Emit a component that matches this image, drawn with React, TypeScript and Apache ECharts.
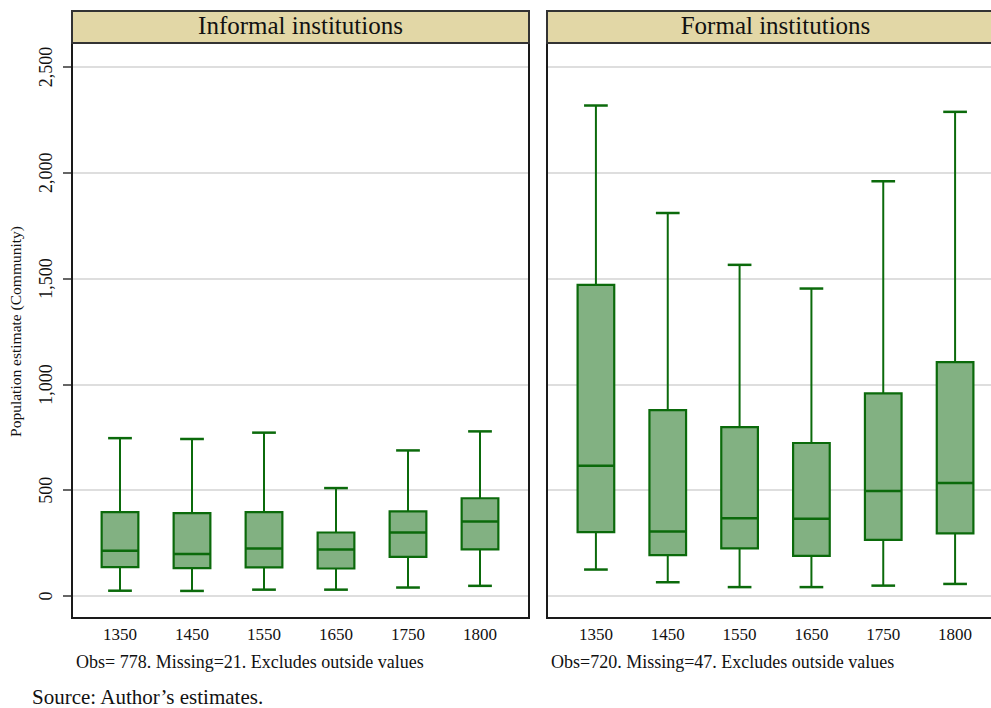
import React, { useEffect, useRef } from "react";
import * as echarts from "echarts";

const categories = ["1350", "1450", "1550", "1650", "1750", "1800"];
// [min, Q1, median, Q3, max] per period
const informalBoxes = [
  [25, 136, 214, 396, 746],
  [24, 132, 198, 392, 742],
  [30, 135, 225, 396, 772],
  [30, 130, 220, 300, 510],
  [40, 185, 300, 400, 688],
  [48, 220, 352, 462, 778],
];
const formalBoxes = [
  [125, 302, 615, 1470, 2318],
  [65, 193, 305, 878, 1810],
  [42, 225, 368, 798, 1565],
  [42, 190, 365, 723, 1453],
  [49, 265, 496, 958, 1960],
  [57, 296, 534, 1105, 2288],
];
const yTicks = { min: 0, max: 2500, interval: 500 };
const panelTitles = ["Informal institutions", "Formal institutions"];
const notes = [
  "Obs= 778. Missing=21. Excludes outside values",
  "Obs=720. Missing=47. Excludes outside values",
];
const sourceText = "Source: Author\u2019s estimates.";
const yTitle = "Population estimate (Community)";

const FONT = "'Liberation Serif', 'Times New Roman', serif";
const STROKE = "#0b6a0b";
const FILL = "#82b182";

function renderBox(params: any, api: any) {
  const x = api.value(0);
  const vals = [api.value(1), api.value(2), api.value(3), api.value(4), api.value(5)];
  const band = api.size([1, 0])[0];
  const boxW = band * 0.51;
  const capW = band * 0.33;
  const pMin = api.coord([x, vals[0]]);
  const pQ1 = api.coord([x, vals[1]]);
  const pMed = api.coord([x, vals[2]]);
  const pQ3 = api.coord([x, vals[3]]);
  const pMax = api.coord([x, vals[4]]);
  const cx = pMed[0];
  const ls = { stroke: STROKE, lineWidth: 2 };
  return {
    type: "group",
    children: [
      { type: "line", shape: { x1: cx, y1: pQ3[1], x2: cx, y2: pMax[1] }, style: ls },
      { type: "line", shape: { x1: cx, y1: pQ1[1], x2: cx, y2: pMin[1] }, style: ls },
      { type: "line", shape: { x1: cx - capW / 2, y1: pMax[1], x2: cx + capW / 2, y2: pMax[1] }, style: { stroke: STROKE, lineWidth: 2.5 } },
      { type: "line", shape: { x1: cx - capW / 2, y1: pMin[1], x2: cx + capW / 2, y2: pMin[1] }, style: { stroke: STROKE, lineWidth: 2.5 } },
      {
        type: "rect",
        shape: { x: cx - boxW / 2, y: pQ3[1], width: boxW, height: pQ1[1] - pQ3[1] },
        style: { fill: FILL, stroke: STROKE, lineWidth: 2.2 },
      },
      { type: "line", shape: { x1: cx - boxW / 2, y1: pMed[1], x2: cx + boxW / 2, y2: pMed[1] }, style: { stroke: STROKE, lineWidth: 2.5 } },
    ],
  };
}

export default function App() {
  const ref = useRef<HTMLDivElement>(null);
  useEffect(() => {
    if (!ref.current) return;
    const chart = echarts.init(ref.current, null, { renderer: "svg" });
    const frameX = [72, 547];
    const boxLeft = [84, 560];
    const top = 67;
    const h = 529;
    const grids: any[] = [];
    const xAxes: any[] = [];
    const yAxes: any[] = [];
    // frame grids (y axis + gridlines)
    [0, 1].forEach((i) => {
      grids.push({ left: frameX[i], top, width: 457, height: h, containLabel: false });
    });
    [0, 1].forEach((i) => {
      grids.push({ left: boxLeft[i], top, width: 432, height: h, containLabel: false });
    });
    [0, 1].forEach((i) => {
      xAxes.push({ gridIndex: i, type: "value", show: false, min: 0, max: 1 });
      yAxes.push({
        gridIndex: i,
        type: "value",
        min: yTicks.min,
        max: yTicks.max,
        interval: yTicks.interval,
        axisLine: { show: false },
        axisTick: { show: i === 0, length: 9, lineStyle: { color: "#333", width: 1.5 } },
        axisLabel: {
          show: i === 0,
          rotate: 90,
          margin: 17,
          fontSize: 18,
          color: "#111",
          fontFamily: FONT,
          formatter: (v: number) => v.toLocaleString("en-US"),
        },
        splitLine: { show: true, lineStyle: { color: "#dedede", width: 2 } },
        name: i === 0 ? yTitle : "",
        nameLocation: "middle",
        nameGap: 49,
        nameRotate: 90,
        nameTextStyle: { fontSize: 15.5, fontFamily: FONT, color: "#111" },
      });
    });
    [0, 1].forEach((i) => {
      xAxes.push({
        gridIndex: 2 + i,
        type: "category",
        data: categories,
        axisLine: { show: false },
        axisTick: { show: false },
        axisLabel: { margin: 30, fontSize: 17, color: "#111", fontFamily: FONT },
        splitLine: { show: false },
      });
      yAxes.push({
        gridIndex: 2 + i,
        type: "value",
        min: yTicks.min,
        max: yTicks.max,
        interval: yTicks.interval,
        show: false,
        splitLine: { show: false },
      });
    });
    const toData = (arr: number[][]) => arr.map((b, idx) => [idx, ...b]);
    const graphics: any[] = [];
    [0, 1].forEach((i) => {
      graphics.push({
        type: "rect",
        shape: { x: frameX[i], y: 43, width: 457, height: 575 },
        style: { fill: "none", stroke: "#1a1a1a", lineWidth: 2 },
        z: 10,
      });
      graphics.push({
        type: "rect",
        shape: { x: frameX[i], y: 11, width: 457, height: 32 },
        style: { fill: "#e2d7a6", stroke: "#333", lineWidth: 2 },
        z: 10,
      });
      graphics.push({
        type: "text",
        x: frameX[i] + 228.5,
        y: 25,
        style: {
          text: panelTitles[i],
          font: `25px ${FONT}`,
          fill: "#111",
          textAlign: "center",
          textVerticalAlign: "middle",
        },
        z: 11,
      });
      graphics.push({
        type: "text",
        x: i === 0 ? 76 : 551,
        y: 662,
        style: {
          text: notes[i],
          font: `18px ${FONT}`,
          fill: "#111",
          textAlign: "left",
          textVerticalAlign: "middle",
        },
      });
    });
    graphics.push({
      type: "text",
      x: 32,
      y: 697,
      style: {
        text: sourceText,
        font: `21px ${FONT}`,
        fill: "#111",
        textAlign: "left",
        textVerticalAlign: "middle",
      },
    });
    chart.setOption({
      animation: false,
      backgroundColor: "#ffffff",
      grid: grids,
      xAxis: xAxes,
      yAxis: yAxes,
      series: [
        {
          type: "custom",
          xAxisIndex: 2,
          yAxisIndex: 2,
          renderItem: renderBox,
          data: toData(informalBoxes),
          encode: { x: 0, y: [1, 2, 3, 4, 5] },
        },
        {
          type: "custom",
          xAxisIndex: 3,
          yAxisIndex: 3,
          renderItem: renderBox,
          data: toData(formalBoxes),
          encode: { x: 0, y: [1, 2, 3, 4, 5] },
        },
      ],
      graphic: graphics,
    });
    return () => chart.dispose();
  }, []);
  return (
    <div
      ref={ref}
      style={{ position: "fixed", left: 0, top: 0, width: 991, height: 708 }}
    />
  );
}
